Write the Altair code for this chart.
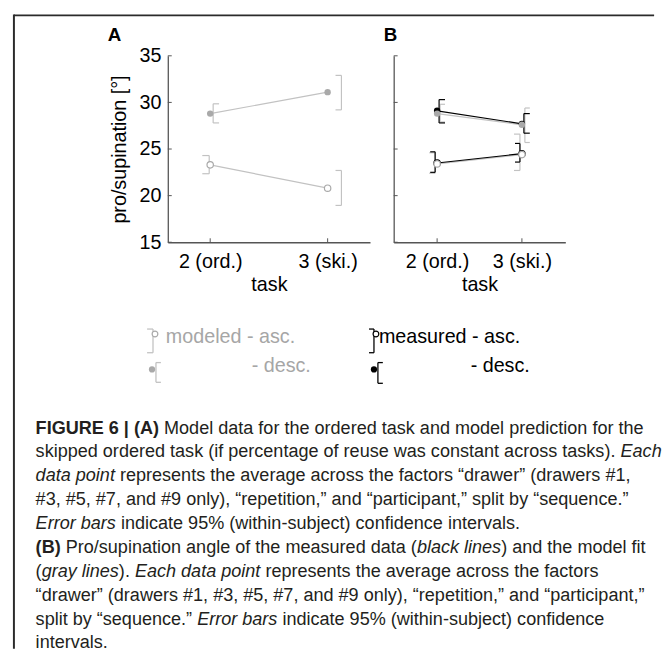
import altair as alt
import pandas as pd

FONT = "Liberation Sans"

# ---------------- data ----------------
tasks = [2, 3]
task_labels = ["2 (ord.)", "3 (ski.)"]
y_ticks = [15, 20, 25, 30, 35]

# Panel A: modeled data (gray)
a_asc_mean = [23.3, 20.8]
a_asc_lo = [22.35, 18.95]
a_asc_hi = [24.3, 22.7]
a_desc_mean = [28.8, 31.1]
a_desc_lo = [27.8, 29.2]
a_desc_hi = [29.85, 32.9]

# Panel B: measured (black)
b_meas_asc_mean = [23.5, 24.5]
b_meas_asc_lo = [22.5, 23.6]
b_meas_asc_hi = [24.7, 25.6]
b_meas_desc_mean = [29.1, 27.7]
b_meas_desc_lo = [27.8, 26.7]
b_meas_desc_hi = [30.3, 28.8]

# Panel B: model fit (gray)
b_mod_asc_mean = [23.4, 24.4]
b_mod_asc_lo = [22.4, 22.7]
b_mod_asc_hi = [24.6, 26.6]
b_mod_desc_mean = [28.8, 27.6]
b_mod_desc_lo = [27.9, 25.7]
b_mod_desc_hi = [29.8, 29.4]

legend_labels = ["modeled - asc.", "- desc.", "measured - asc.", "- desc."]

caption_lines = [
    [("b", "FIGURE 6 | (A)"), ("r", " Model data for the ordered task and model prediction for the")],
    [("r", "skipped ordered task (if percentage of reuse was constant across tasks). "), ("i", "Each")],
    [("i", "data point"), ("r", " represents the average across the factors \u201cdrawer\u201d (drawers #1,")],
    [("r", "#3, #5, #7, and #9 only), \u201crepetition,\u201d and \u201cparticipant,\u201d split by \u201csequence.\u201d")],
    [("i", "Error bars"), ("r", " indicate 95% (within-subject) confidence intervals.")],
    [("b", "(B)"), ("r", " Pro/supination angle of the measured data ("), ("i", "black lines"), ("r", ") and the model fit")],
    [("r", "("), ("i", "gray lines"), ("r", "). "), ("i", "Each data point"), ("r", " represents the average across the factors")],
    [("r", "\u201cdrawer\u201d (drawers #1, #3, #5, #7, and #9 only), \u201crepetition,\u201d and \u201cparticipant,\u201d")],
    [("r", "split by \u201csequence.\u201d "), ("i", "Error bars"), ("r", " indicate 95% (within-subject) confidence")],
    [("r", "intervals.")],
]

# ---------------- text metrics (Arial / Liberation Sans, per 1000 em) ----------------
REG = {' ': 278, '!': 278, '#': 556, '%': 889, '(': 333, ')': 333, ',': 278, '-': 333, '.': 278,
       '/': 278, ':': 278, ';': 278, '|': 260, '\u201c': 333, '\u201d': 333, "'": 191}
for ch in "0123456789":
    REG[ch] = 556
REG.update(dict(zip("ABCDEFGHIJKLMNOPQRSTUVWXYZ",
                    [667, 667, 722, 722, 667, 611, 778, 722, 278, 500, 667, 556, 833, 722, 778, 667, 778,
                     722, 667, 611, 722, 667, 944, 667, 667, 611])))
REG.update(dict(zip("abcdefghijklmnopqrstuvwxyz",
                    [556, 556, 500, 556, 556, 278, 556, 556, 222, 222, 500, 222, 833, 556, 556, 556, 556,
                     333, 500, 278, 556, 500, 722, 500, 500, 500])))
BOLD = dict(REG)
BOLD.update({'A': 722, 'B': 722, '|': 280, 'G': 778, 'U': 722, 'R': 722})


def text_width(s, style, size):
    table = BOLD if style == "b" else REG
    return sum(table.get(c, 556) for c in s) * size / 1000.0


# ---------------- layout (page px -> panel origins) ----------------
OX, OY = 169, 55
A_W, B_W, H = 205, 174, 189
SPACING = 24
GRAY_LINE = "#c2c2c2"
GRAY_MARK = "#a9a9a9"
AX = "#555555"

CAP_SIZE = 18.3
rows = []
for i, line in enumerate(caption_lines):
    x = 35 - OX
    y = 438 + i * 24.2 - OY
    for style, s in line:
        lead = len(s) - len(s.lstrip(" "))
        body = s.strip(" ")
        rows.append({"text": body, "px": x + text_width(" " * lead, style, CAP_SIZE), "py": y,
                     "kind": "cap_" + style})
        x += text_width(s, style, CAP_SIZE)

LEG = 20
L1, L2 = 346, 376
rows += [
    {"text": legend_labels[0], "px": 167 - OX, "py": L1 - OY, "kind": "leg_gray"},
    {"text": legend_labels[1], "px": 254 - OX, "py": L2 - OY, "kind": "leg_gray"},
    {"text": legend_labels[2], "px": 383 - OX, "py": L1 - OY, "kind": "leg_black"},
    {"text": legend_labels[3], "px": 476 - OX, "py": L2 - OY, "kind": "leg_black"},
    {"text": "A", "px": 108 - OX, "py": 40 - OY, "kind": "letter"},
    {"text": "B", "px": 388 - OX, "py": 40 - OY, "kind": "letter"},
]
overlay = pd.DataFrame(rows)


def mk(mean, lo, hi):
    return pd.DataFrame({"task": tasks, "mean": mean, "lo": lo, "hi": hi})


def ysc():
    return alt.Scale(domain=[15, 35], nice=False, zero=False)


def make_axes(panel):
    if panel == "A":
        pad = 0.361
        yaxis = alt.Axis(values=y_ticks, title="pro/supination [\u00b0]", labelPadding=7, titlePadding=10)
    else:
        pad = 0.512
        yaxis = alt.Axis(values=y_ticks, labels=False, title=None)
    xsc = alt.Scale(domain=[tasks[0] - pad, tasks[-1] + pad], nice=False, zero=False)
    expr = " : ".join(f"datum.value == {t} ? '{l}'" for t, l in zip(tasks[:-1], task_labels[:-1]))
    expr = expr + f" : '{task_labels[-1]}'"
    xaxis = alt.Axis(values=tasks, labelExpr=expr, title="task", labelAngle=0, labelPadding=10, titlePadding=3)
    X = lambda f: alt.X(f"{f}:Q", scale=xsc, axis=xaxis)
    Y = lambda f: alt.Y(f"{f}:Q", scale=ysc(), axis=yaxis)
    return X, Y


def bracket(df, X, Y, color, v_off, cap_end, sw=1.2):
    base = alt.Chart(df)
    vert = base.mark_rule(color=color, strokeWidth=sw, xOffset=v_off).encode(x=X("task"), y=Y("lo"), y2="hi")
    top = base.mark_rule(color=color, strokeWidth=sw, xOffset=v_off, x2Offset=cap_end).encode(
        x=X("task"), x2="task", y=Y("hi"))
    bot = base.mark_rule(color=color, strokeWidth=sw, xOffset=v_off, x2Offset=cap_end).encode(
        x=X("task"), x2="task", y=Y("lo"))
    return [vert, top, bot]


def series_line(df, X, Y, color):
    return alt.Chart(df).mark_line(color=color, strokeWidth=1.2).encode(x=X("task"), y=Y("mean"))


def pts(df, X, Y, color, filled):
    if filled:
        m = alt.Chart(df).mark_point(shape="circle", filled=True, size=42, color=color, opacity=1)
    else:
        m = alt.Chart(df).mark_point(shape="circle", filled=True, size=42, fill="white", stroke=color,
                                     strokeWidth=1.2, opacity=1)
    return m.encode(x=X("task"), y=Y("mean"))


def ticks(X, Y):
    yt = alt.Chart(pd.DataFrame({"v": y_ticks})).mark_rule(color=AX, strokeWidth=1).encode(
        y=Y("v"), x=alt.value(0), x2=alt.value(4))
    xt = alt.Chart(pd.DataFrame({"task": tasks})).mark_rule(color=AX, strokeWidth=1).encode(
        x=X("task"), y=alt.value(H), y2=alt.value(H - 4))
    return [yt, xt]


# ---------------- panel A ----------------
XA, YA = make_axes("A")
a_asc = mk(a_asc_mean, a_asc_lo, a_asc_hi)
a_desc = mk(a_desc_mean, a_desc_lo, a_desc_hi)
layersA = ticks(XA, YA)
layersA += [series_line(a_asc, XA, YA, GRAY_LINE), series_line(a_desc, XA, YA, GRAY_LINE)]
layersA += bracket(a_asc.iloc[[0]], XA, YA, GRAY_LINE, -1, -8)
layersA += bracket(a_desc.iloc[[0]], XA, YA, GRAY_LINE, 3, 9)
layersA += bracket(a_asc.iloc[[1]], XA, YA, GRAY_LINE, 14, 8)
layersA += bracket(a_desc.iloc[[1]], XA, YA, GRAY_LINE, 14, 8)
layersA += [pts(a_asc, XA, YA, GRAY_MARK, False), pts(a_desc, XA, YA, GRAY_MARK, True)]

OXs = alt.X("px:Q", scale=None, axis=None)
OYs = alt.Y("py:Q", scale=None, axis=None)
ov = alt.Chart(overlay)


def txt(kind, size, color, **kw):
    return ov.transform_filter(f"datum.kind == '{kind}'").mark_text(
        align="left", baseline="alphabetic", font=FONT, fontSize=size, color=color, **kw
    ).encode(x=OXs, y=OYs, text="text:N")


layersA += [
    txt("cap_r", CAP_SIZE, "#231f20"),
    txt("cap_i", CAP_SIZE, "#231f20", fontStyle="italic"),
    txt("cap_b", CAP_SIZE, "#231f20", fontWeight="bold"),
    txt("leg_gray", LEG, "#a6a6a6"),
    txt("leg_black", LEG, "#000000"),
    txt("letter", 19, "#000000", fontWeight="bold"),
]

one = pd.DataFrame({"k": [0]})


def vrule(x, y1, y2, color, sw=1.3):
    return alt.Chart(one).mark_rule(color=color, strokeWidth=sw).encode(
        x=alt.value(x - OX), y=alt.value(y1 - OY), y2=alt.value(y2 - OY))


def hrule(x1, x2, y, color, sw=1.3):
    return alt.Chart(one).mark_rule(color=color, strokeWidth=sw).encode(
        x=alt.value(x1 - OX), x2=alt.value(x2 - OX), y=alt.value(y - OY))


def dot(x, y, color, filled, size=40):
    if filled:
        m = alt.Chart(one).mark_point(shape="circle", filled=True, size=size, color=color, opacity=1)
    else:
        m = alt.Chart(one).mark_point(shape="circle", filled=True, size=size, fill="white", stroke=color,
                                      strokeWidth=1.2, opacity=1)
    return m.encode(x=alt.value(x - OX), y=alt.value(y - OY))


d = L1 - 337
layersA += [
    vrule(154, 323 + d, 347 + d, GRAY_LINE), hrule(148, 154, 323 + d, GRAY_LINE), hrule(148, 154, 347 + d, GRAY_LINE),
    dot(156, 328 + d, GRAY_MARK, False, 34),
    vrule(157, 357 + d, 377 + d, GRAY_LINE), hrule(157, 162, 357 + d, GRAY_LINE), hrule(157, 162, 377 + d, GRAY_LINE),
    dot(153, 364 + d, GRAY_MARK, True, 40),
    vrule(378, 323 + d, 347 + d, "#000"), hrule(373, 378, 323 + d, "#000"), hrule(373, 378, 347 + d, "#000"),
    dot(380, 328 + d, "#000", False, 34),
    vrule(382, 357 + d, 378 + d, "#000"), hrule(382, 387, 357 + d, "#000"), hrule(382, 387, 378 + d, "#000"),
    dot(378, 364 + d, "#000", True, 40),
]
# figure frame: top and left edges, plus an invisible anchor fixing the top-left extent
layersA += [
    alt.Chart(one).mark_point(opacity=0, size=1, filled=True).encode(
        x=alt.value(8 - OX), y=alt.value(12 - OY)),
    hrule(13, 662, 14, "#2b2b2b", 2),
    vrule(13, 13, 656, "#2b2b2b", 2),
]

panelA = alt.layer(*layersA).properties(width=A_W, height=H)

# ---------------- panel B ----------------
XB, YB = make_axes("B")
bm_asc = mk(b_meas_asc_mean, b_meas_asc_lo, b_meas_asc_hi)
bm_desc = mk(b_meas_desc_mean, b_meas_desc_lo, b_meas_desc_hi)
bg_asc = mk(b_mod_asc_mean, b_mod_asc_lo, b_mod_asc_hi)
bg_desc = mk(b_mod_desc_mean, b_mod_desc_lo, b_mod_desc_hi)
layersB = ticks(XB, YB)
layersB += bracket(bg_asc, XB, YB, GRAY_LINE, -2, -8)
layersB += bracket(bg_desc, XB, YB, GRAY_LINE, 3, 8)
layersB += bracket(bm_asc, XB, YB, "#000", -2, -7)
layersB += bracket(bm_desc, XB, YB, "#000", 2, 8)
layersB += [series_line(bg_asc, XB, YB, GRAY_LINE), series_line(bg_desc, XB, YB, GRAY_LINE),
            series_line(bm_asc, XB, YB, "#000"), series_line(bm_desc, XB, YB, "#000")]
layersB += [pts(bm_asc, XB, YB, "#000", False), pts(bm_desc, XB, YB, "#000", True),
            pts(bg_asc, XB, YB, GRAY_MARK, False), pts(bg_desc, XB, YB, GRAY_MARK, True)]
panelB = alt.layer(*layersB).properties(width=B_W, height=H)

chart = alt.hconcat(panelA, panelB, spacing=SPACING, bounds="flush").properties(
    padding={"left": 0, "top": 0, "right": 0, "bottom": 0}
).configure_view(stroke=None).configure_axis(
    grid=False, ticks=False, domainColor=AX, domainWidth=1.3,
    labelFont=FONT, labelFontSize=20, labelColor="#000",
    titleFont=FONT, titleFontSize=20, titleFontWeight="normal", titleColor="#000",
)

chart.save("out.html", embed_options={"renderer": "svg", "actions": False})
